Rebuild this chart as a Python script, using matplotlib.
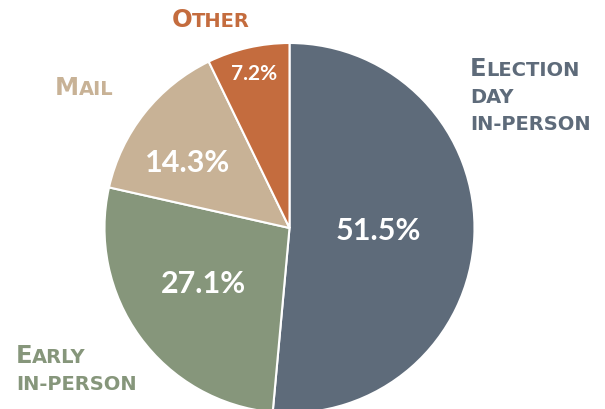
import matplotlib
matplotlib.use("Agg")
import matplotlib.pyplot as plt
import numpy as np

labels = ["Election day in-person", "Early in-person", "Mail", "Other"]
shares = [51.5, 27.1, 14.3, 7.2]
colors = ["#5e6b7a", "#86967b", "#c8b296", "#c46c3e"]

# outer label lines, each (big first letter, rest in small caps)
label_lines = [
    [("E", "LECTION"), ("", "DAY"), ("", "IN-PERSON")],
    [("E", "ARLY"), ("", "IN-PERSON")],
    [("M", "AIL")],
    [("O", "THER")],
]
# left x and first baseline (image pixels, y from top)
label_pos = [(470, 75.5), (16, 363), (55, 95), (172, 27)]

# where the percentages sit: radial fraction, angle shift
pct_place = [(0.48, 2.0), (0.55, -4.0), (0.66, 5.0), (0.86, 0.0)]
pct_size = [22, 22, 22, 15]

W, H = 605, 409
fig = plt.figure(figsize=(W / 100, H / 100), dpi=100)
ax = fig.add_axes([0, 0, 1, 1])

cx, cy, R = 289.5, H - 228, 185
wedges, _ = ax.pie(shares, colors=colors, startangle=90, counterclock=False,
                   center=(cx, cy), radius=R, frame=True,
                   wedgeprops=dict(edgecolor="white", linewidth=1.5))
ax.set_xlim(0, W)
ax.set_ylim(0, H)
ax.set_aspect("equal")
ax.axis("off")

for w, share, (rf, dth), fs in zip(wedges, shares, pct_place, pct_size):
    ang = np.deg2rad((w.theta1 + w.theta2) / 2 + dth)
    x = cx + rf * R * np.cos(ang)
    y = cy + rf * R * np.sin(ang)
    ax.text(x, y - fs * 0.5, f"{share:.1f}%", color="white", fontsize=fs,
            fontweight="bold", family="Lato", ha="center", va="baseline")

fig.canvas.draw()
renderer = fig.canvas.get_renderer()

big, small = 17.5, 14
line_gap = 27.5
for lines, (x0, y0), col in zip(label_lines, label_pos, colors):
    for i, (first, rest) in enumerate(lines):
        x = x0
        y = H - (y0 + i * line_gap)
        for txt, fs in ((first, big), (rest, small)):
            if not txt:
                continue
            t = ax.text(x, y, txt, color=col, fontsize=fs, fontweight="bold",
                        family="DejaVu Sans", ha="left", va="baseline")
            x += t.get_window_extent(renderer).width - 0.5

fig.savefig("out.png", dpi=100)
